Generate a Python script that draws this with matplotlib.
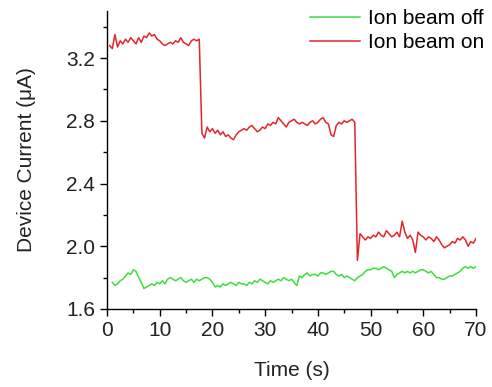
import matplotlib
matplotlib.use('Agg')
import matplotlib.pyplot as plt
import numpy as np
from matplotlib.ticker import MultipleLocator

plt.rcParams.update({
    'font.family': ['Liberation Sans', 'DejaVu Sans'],
    'font.size': 15,
    'axes.linewidth': 1.0,
})

# Ion beam on: three plateaus (0.5 s steps)
on_start = [0.5, 18.0, 47.5]
on_seg1 = [3.28, 3.26, 3.35, 3.27, 3.31, 3.29, 3.32, 3.30, 3.33, 3.31,
           3.29, 3.33, 3.30, 3.34, 3.33, 3.36, 3.34, 3.35, 3.32, 3.31,
           3.29, 3.28, 3.29, 3.30, 3.29, 3.31, 3.30, 3.33, 3.30, 3.29,
           3.28, 3.31, 3.32, 3.31, 3.32]
on_seg2 = [2.72, 2.69, 2.76, 2.73, 2.75, 2.72, 2.74, 2.71, 2.73, 2.70,
           2.71, 2.69, 2.68, 2.71, 2.73, 2.74, 2.75, 2.74, 2.76, 2.77,
           2.75, 2.73, 2.74, 2.76, 2.75, 2.78, 2.77, 2.79, 2.78, 2.82,
           2.80, 2.78, 2.76, 2.79, 2.80, 2.81, 2.79, 2.78, 2.79, 2.78,
           2.77, 2.79, 2.80, 2.78, 2.79, 2.81, 2.82, 2.79, 2.78, 2.71,
           2.70, 2.77, 2.79, 2.78, 2.80, 2.79, 2.80, 2.81, 2.79]
on_seg3 = [1.91, 2.08, 2.06, 2.04, 2.06, 2.05, 2.07, 2.06, 2.09, 2.07,
           2.06, 2.10, 2.08, 2.06, 2.07, 2.09, 2.06, 2.16, 2.09, 2.05,
           2.07, 2.04, 1.96, 2.09, 2.07, 2.06, 2.04, 2.06, 2.05, 2.03,
           2.06, 2.04, 2.01, 1.99, 2.00, 2.01, 2.03, 2.02, 2.05, 2.04,
           2.06, 2.04, 2.00, 2.03, 2.02, 2.05]

# Ion beam off (0.5 s steps from t = 1 s)
off_start = 1.0
off_vals = [1.77, 1.75, 1.76, 1.78, 1.79, 1.81, 1.83, 1.82, 1.85, 1.84,
            1.80, 1.77, 1.73, 1.74, 1.75, 1.76, 1.75, 1.77, 1.76, 1.78,
            1.76, 1.79, 1.80, 1.79, 1.78, 1.79, 1.80, 1.78, 1.77, 1.78,
            1.79, 1.77, 1.79, 1.78, 1.79, 1.80, 1.80, 1.79, 1.77, 1.74,
            1.75, 1.74, 1.76, 1.75, 1.76, 1.77, 1.76, 1.75, 1.77, 1.76,
            1.76, 1.75, 1.77, 1.76, 1.78, 1.77, 1.79, 1.78, 1.77, 1.76,
            1.78, 1.77, 1.78, 1.79, 1.78, 1.80, 1.79, 1.78, 1.79, 1.77,
            1.75, 1.81, 1.80, 1.82, 1.83, 1.81, 1.82, 1.82, 1.81, 1.83,
            1.83, 1.82, 1.83, 1.84, 1.84, 1.82, 1.81, 1.82, 1.80, 1.81,
            1.80, 1.79, 1.78, 1.80, 1.81, 1.82, 1.84, 1.85, 1.85, 1.86,
            1.86, 1.85, 1.86, 1.87, 1.86, 1.85, 1.84, 1.80, 1.82, 1.83,
            1.84, 1.83, 1.84, 1.83, 1.84, 1.83, 1.84, 1.85, 1.85, 1.84,
            1.83, 1.84, 1.82, 1.80, 1.80, 1.79, 1.79, 1.80, 1.81, 1.81,
            1.82, 1.83, 1.84, 1.86, 1.87, 1.86, 1.87, 1.86, 1.87]

dt = 0.5
t_on = np.concatenate([s + dt * np.arange(len(seg))
                       for s, seg in zip(on_start, [on_seg1, on_seg2, on_seg3])])
i_on = np.concatenate([on_seg1, on_seg2, on_seg3])
t_off = off_start + dt * np.arange(len(off_vals))

green = '#3FDD3F'
red = '#E4262B'

fig = plt.figure(figsize=(4.92, 3.87), dpi=100)
ax = fig.add_axes([0.2175, 0.2016, 0.75, 0.77])

ax.plot(t_off, off_vals, color=green, lw=1.1, label='Ion beam off')
ax.plot(t_on, i_on, color=red, lw=1.1, label='Ion beam on')

ax.set_xlim(0, 70)
ax.set_ylim(1.6, 3.5)
ax.xaxis.set_major_locator(MultipleLocator(10))
ax.xaxis.set_minor_locator(MultipleLocator(5))
ax.yaxis.set_major_locator(MultipleLocator(0.4))
ax.yaxis.set_minor_locator(MultipleLocator(0.2))
ax.tick_params(which='major', direction='out', length=5, width=1.0,
               labelsize=15, labelcolor='#222222')
ax.tick_params(which='minor', direction='out', length=3, width=1.0)
ax.yaxis.set_major_formatter(matplotlib.ticker.FormatStrFormatter('%.1f'))

ax.spines['top'].set_visible(False)
ax.spines['right'].set_visible(False)

ax.set_xlabel('Time (s)', fontsize=15, color='#222222', labelpad=15)
ax.set_ylabel('Device Current (\u03bcA)', fontsize=15, color='#222222', labelpad=22)

ax.legend(loc='upper right', bbox_to_anchor=(0.988, 0.982),
          bbox_transform=fig.transFigure, frameon=False,
          handlelength=2.4, handletextpad=0.35, labelspacing=0.25,
          borderpad=0.1, borderaxespad=0.0, fontsize=15)

fig.savefig('out.png', dpi=100)
